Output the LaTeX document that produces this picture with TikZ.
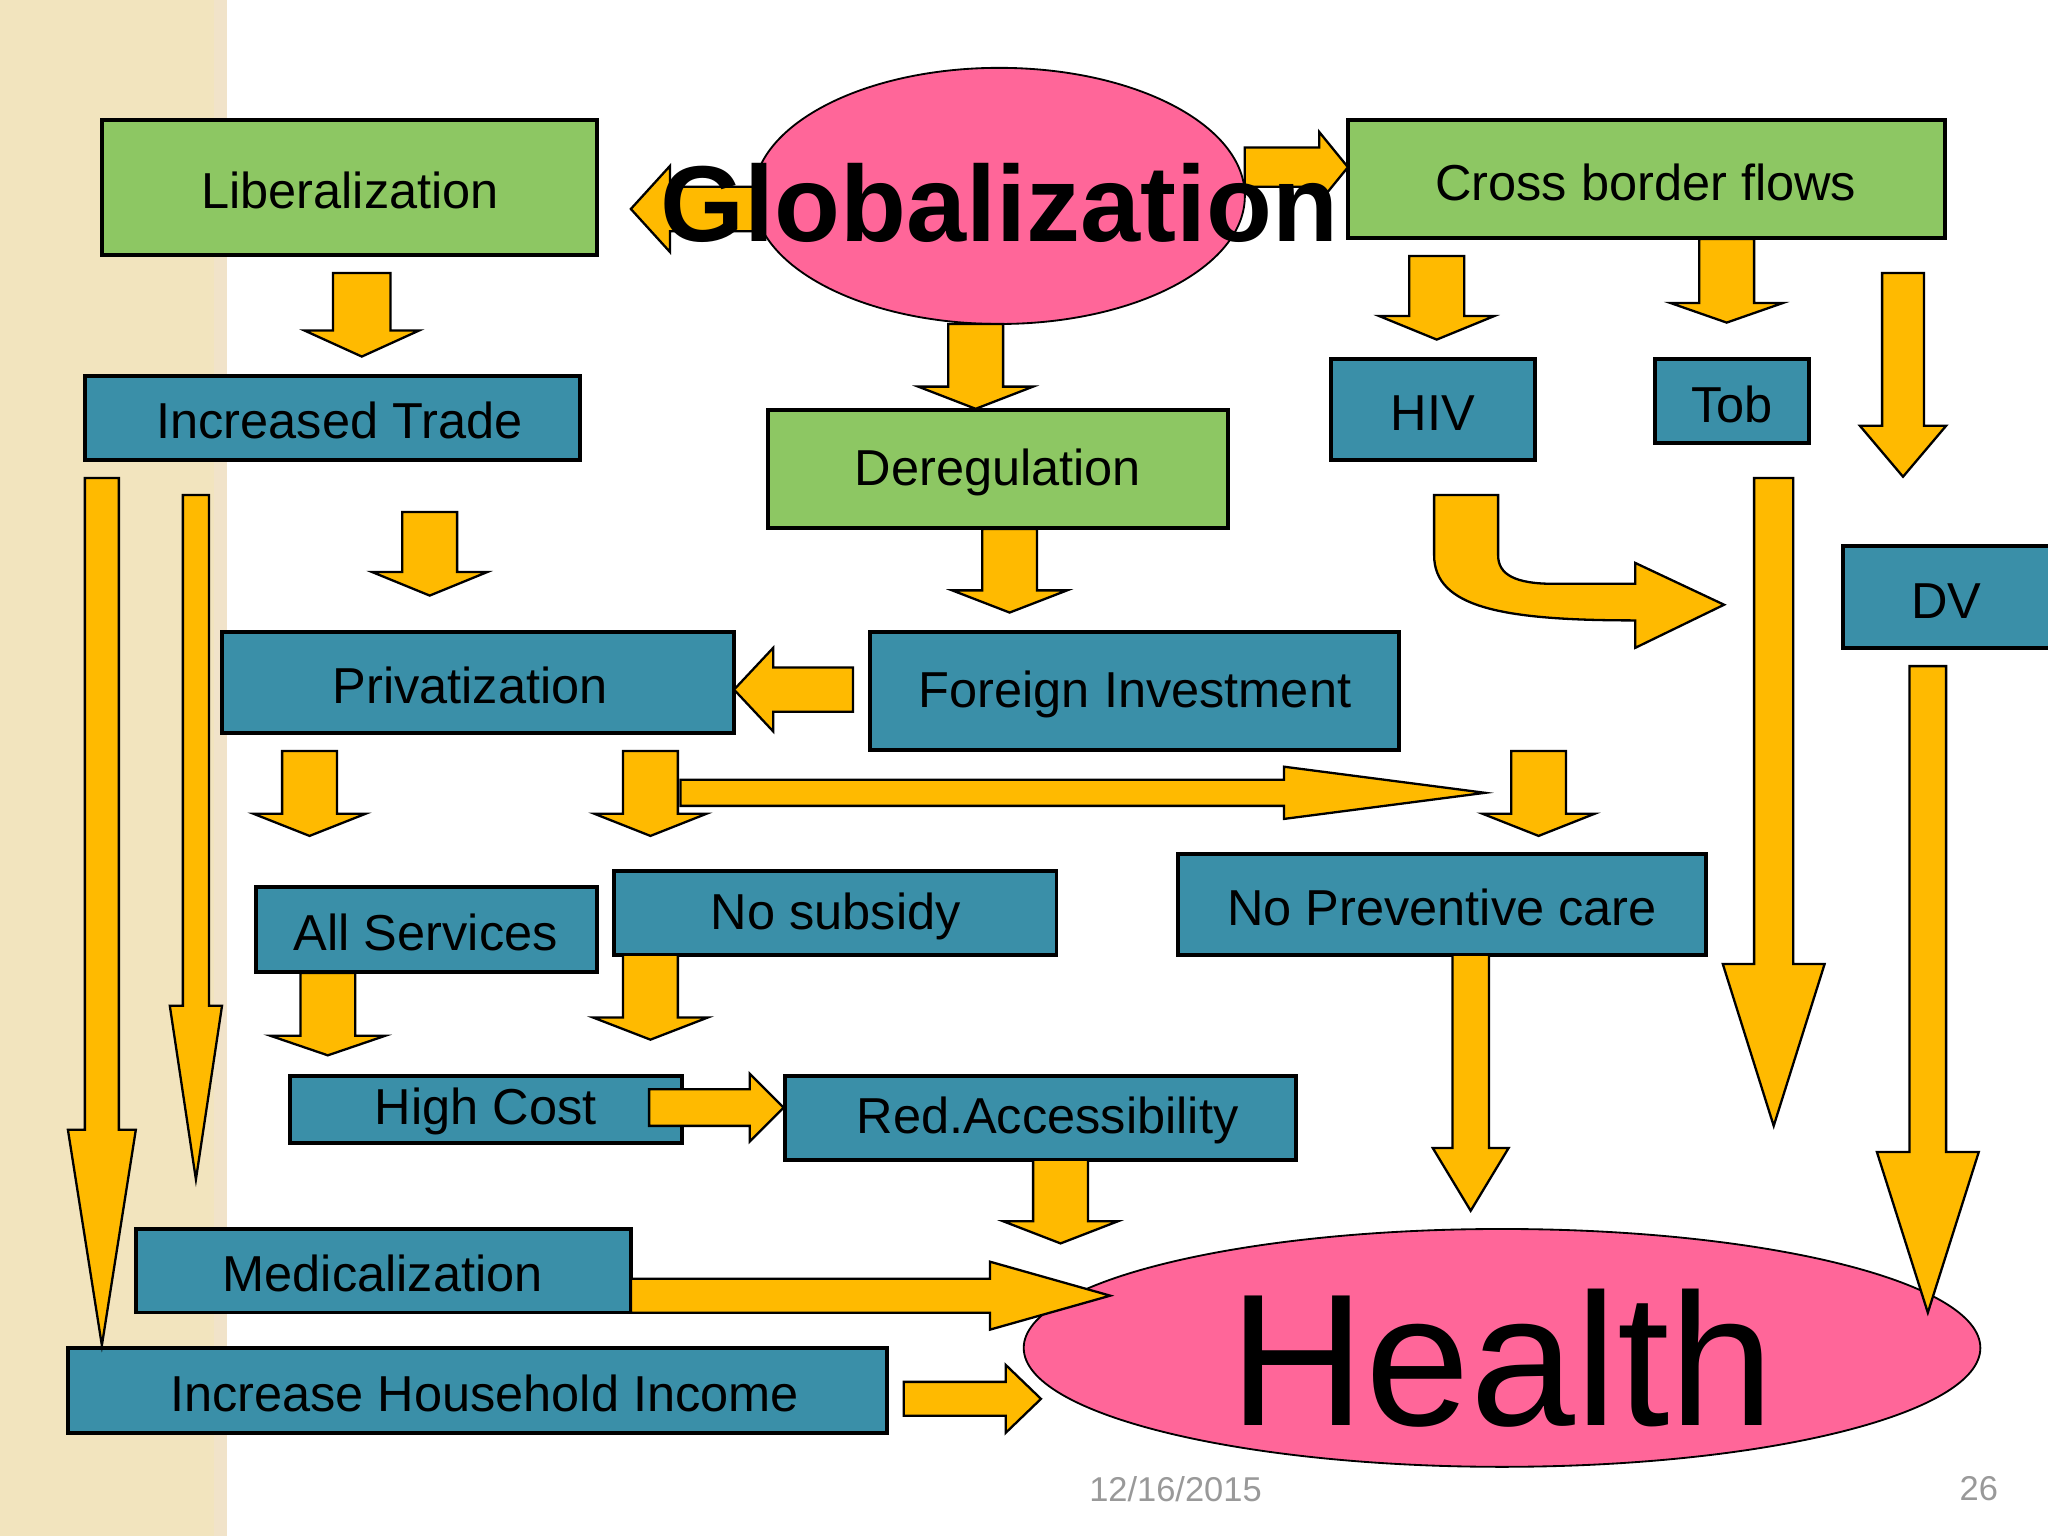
\documentclass[tikz,border=0pt]{standalone}
\usepackage{fontspec}
\usetikzlibrary{shapes.geometric}
\setmainfont{Liberation Sans}
\definecolor{grn}{HTML}{8DC763}
\definecolor{blu}{HTML}{3A8FA8}
\definecolor{pnk}{HTML}{FF6699}
\definecolor{yel}{HTML}{FFBA00}
\definecolor{strip}{HTML}{F2E4BE}
\newcommand\varrow[6]{\filldraw[arr] ({#1-#4},#2) -- ({#1-#4},{#3-#6}) -- ({#1-#5},{#3-#6}) -- (#1,#3) -- ({#1+#5},{#3-#6}) -- ({#1+#4},{#3-#6}) -- ({#1+#4},#2) -- cycle;}
\newcommand\harrow[6]{\filldraw[arr] (#2,{#1-#4}) -- ({#3-sign(#3-#2)*#6},{#1-#4}) -- ({#3-sign(#3-#2)*#6},{#1-#5}) -- (#3,#1) -- ({#3-sign(#3-#2)*#6},{#1+#5}) -- ({#3-sign(#3-#2)*#6},{#1+#4}) -- (#2,{#1+#4}) -- cycle;}
\tikzset{
 arr/.style={fill=yel,draw=black,line width=0.5pt},
 gbox/.style={draw=black,fill=grn,line width=0.8pt,font=\fontsize{11}{13}\selectfont,inner sep=0},
 bbox/.style={draw=black,fill=blu,line width=0.8pt,font=\fontsize{11}{13}\selectfont,inner sep=0},
}
\newcommand\bx[6]{\node[#1,minimum width={(#4-#2)*0.01cm},minimum height={(#5-#3)*0.01cm}] (#6) at ({(#2+#4)/2},{(#3+#5)/2}) {};}
\begin{document}
\begin{tikzpicture}[x=0.01cm,y=-0.01cm]
\useasboundingbox (0,0) rectangle (1568,1176);
\fill[white] (0,0) rectangle (1568,1176);
\fill[strip] (0,0) rectangle (172,1176);
\fill[strip!80!brown!60] (164,0) rectangle (174,1176);
% ellipses
\node[draw=black,fill=pnk,ellipse,minimum width=3.76cm,minimum height=1.96cm,inner sep=0] (glob) at (765,150) {};
\node[draw=black,fill=pnk,ellipse,minimum width=7.32cm,minimum height=1.82cm,inner sep=0] (health) at (1150,1032) {};
% boxes
\bx{gbox}{78}{92}{457}{195}{lib}
\bx{gbox}{1032}{92}{1489}{182}{cross}
\bx{bbox}{65}{288}{444}{352}{trade}
\bx{gbox}{588}{314}{940}{404}{dereg}
\bx{bbox}{1019}{275}{1175}{352}{hiv}
\bx{bbox}{1267}{275}{1385}{339}{tob}
\bx{bbox}{1411}{418}{1578}{496}{dv}
\bx{bbox}{170}{484}{562}{561}{priv}
\bx{bbox}{666}{484}{1071}{574}{fdi}
\bx{bbox}{196}{679}{457}{744}{allserv}
\bx{bbox}{470}{667}{809}{731}{nosub}
\bx{bbox}{902}{654}{1306}{731}{noprev}
\bx{bbox}{222}{824}{522}{875}{high}
\bx{bbox}{601}{824}{992}{888}{red}
\bx{bbox}{104}{941}{483}{1005}{med}
\bx{bbox}{52}{1032}{679}{1097}{income}
% arrows
\harrow{160}{578}{483}{17}{33}{30}
\harrow{128}{953}{1032}{15}{27}{22}
\varrow{277}{209}{273}{22}{44}{20}
\varrow{747}{248}{313}{21}{44}{17}
\varrow{1100}{196}{260}{21}{44}{18}
\varrow{1322}{183}{247}{21}{43}{15}
\varrow{1457}{209}{365}{16}{33}{39}
\varrow{329}{392}{456}{21}{44}{18}
\varrow{773}{405}{469}{21}{44}{17}
\harrow{528}{653}{562}{17}{32}{30}
\filldraw[arr] (1098,379) -- (1098,425) .. controls (1098,465) and (1150,475) .. (1252,475) -- (1252,496) -- (1320,463) -- (1252,431) -- (1252,447) -- (1190,447) .. controls (1160,447) and (1147,440) .. (1147,425) -- (1147,379) -- cycle;
\varrow{1358}{366}{862}{15}{39}{124}
\varrow{1476}{510}{1005}{14}{39}{123}
\varrow{78}{366}{1030}{13}{26}{165}
\varrow{150}{379}{903}{10}{20}{133}
\varrow{237}{575}{640}{21}{43}{17}
\varrow{498}{575}{640}{21}{43}{17}
\harrow{607}{521}{1137}{10}{20}{154}
\varrow{1178}{575}{640}{21}{43}{17}
\varrow{251}{745}{808}{21}{44}{15}
\varrow{498}{731}{796}{21}{44}{17}
\harrow{848}{497}{600}{14}{26}{26}
\varrow{812}{888}{952}{21}{44}{17}
\varrow{1126}{731}{927}{14}{29}{48}
\harrow{992}{483}{850}{13}{26}{92}
\harrow{1071}{692}{797}{13}{26}{27}
% texts
\tikzset{t/.style={font=\fontsize{11}{13}\selectfont}}
\node[t] at (268,146) {Liberalization};
\node[t] at (1260,140) {Cross border flows};
\node[t] at (260,322) {Increased Trade};
\node[t] at (764,362) {Deregulation};
\node[t] at (1097,316) {HIV};
\node[t] at (1326,310) {Tob};
\node[t] at (1490,460) {DV};
\node[t] at (360,525) {Privatization};
\node[t] at (869,532) {Foreign Investment};
\node[t] at (326,714) {All Services};
\node[t] at (640,702) {No subsidy};
\node[t] at (1104,695) {No Preventive care};
\node[t] at (372,851) {High Cost};
\node[t] at (802,858) {Red.Accessibility};
\node[t] at (293,975) {Medicalization};
\node[t] at (371,1067) {Increase Household Income};
\node[font=\fontsize{23.5}{26}\selectfont\bfseries] at (765,155) {Globalization};
\node[font=\fontsize{41}{44}\selectfont] at (1150,1040) {Health};
\node[font=\fontsize{7.5}{9}\selectfont,text=gray!80] at (900,1140) {12/16/2015};
\node[font=\fontsize{7.5}{9}\selectfont,text=gray!80] at (1515,1140) {26};
\end{tikzpicture}
\end{document}
